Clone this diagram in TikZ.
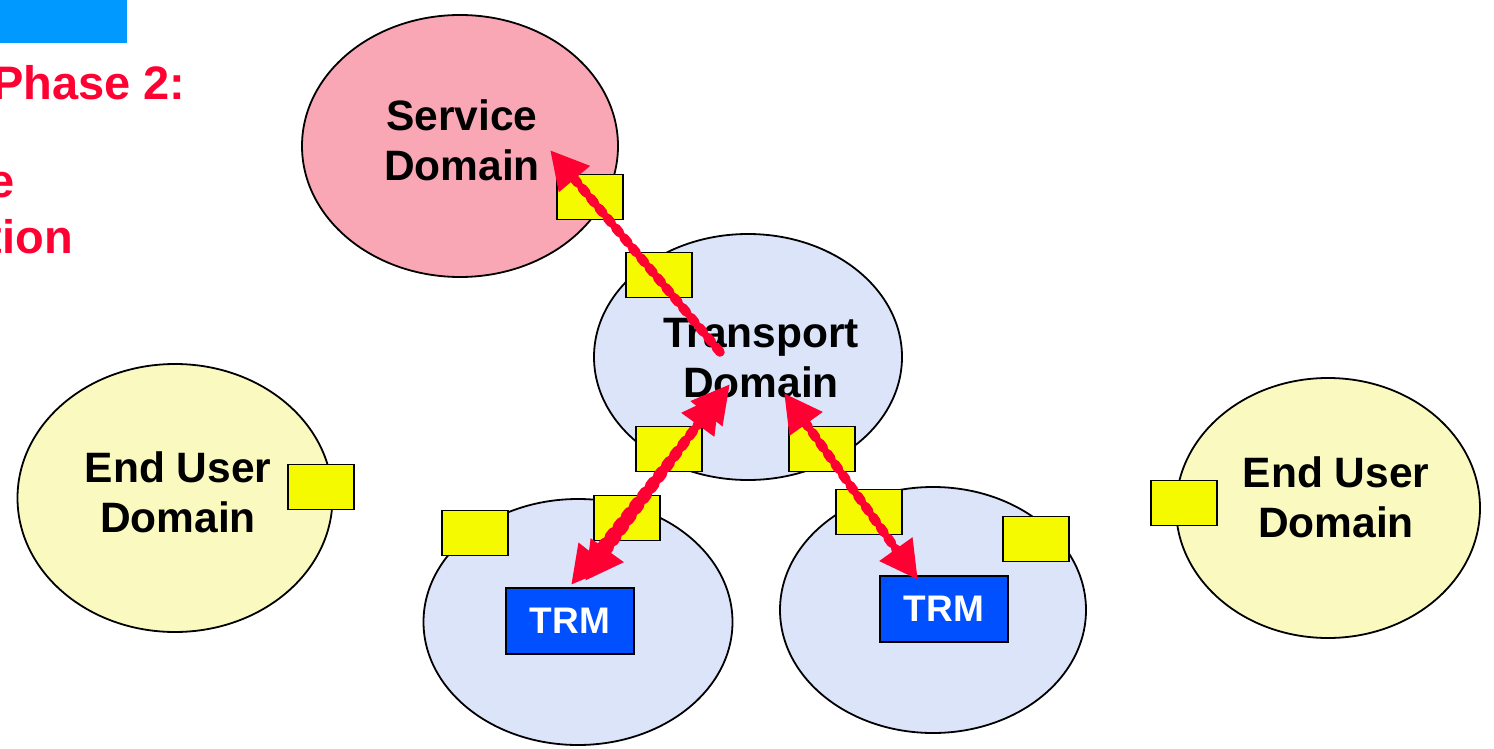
\documentclass[tikz,border=0pt]{standalone}
\usepackage{fontspec}
\setmainfont{Liberation Sans}
\usetikzlibrary{shapes.geometric,arrows.meta}
\definecolor{svcpink}{HTML}{F9A7B5}
\definecolor{trblue}{HTML}{DCE4FA}
\definecolor{euyellow}{HTML}{FAFAC0}
\definecolor{portyellow}{HTML}{F5FA00}
\definecolor{trmblue}{HTML}{0050FF}
\definecolor{flowred}{HTML}{FF0033}
\definecolor{barblue}{HTML}{0099FF}
\tikzset{
  domainshape/.style={ellipse, draw=black, line width=1.8pt, inner sep=0pt},
  dlabel/.style={font=\bfseries\fontsize{42.5}{50}\selectfont, align=center, text=black},
  portbox/.style={draw=black, fill=portyellow, line width=1.8pt, minimum width=66pt, minimum height=45pt, inner sep=0pt},
  trmbox/.style={draw=black, fill=trmblue, line width=1.8pt, minimum width=128pt, minimum height=66pt, inner sep=0pt,
              text=white, font=\bfseries\fontsize{37}{40}\selectfont},
  flowline/.style={draw=flowred, line width=9.5pt, line cap=round, dash pattern=on 6pt off 7pt},
  redtip/.tip={Triangle[length=38pt,width=38pt,fill=flowred]},
  tipA/.style={-redtip},
  tipAB/.style={redtip-redtip},
  phasetext/.style={text=flowred, font=\bfseries\fontsize{47}{52}\selectfont, inner sep=0pt},
}
\begin{document}
\begin{tikzpicture}[x=1pt,y=-1pt]
\useasboundingbox (0,0) rectangle (1494,749);
\clip (0,0) rectangle (1494,749);

% title bar and phase heading
\fill[barblue] (0,0) rectangle (127,43);
\node[phasetext, anchor=base west] (ph1) at (-8,100) {Phase 2:};
\node[phasetext, anchor=base east] (ph2) at (15,197) {e};
\node[phasetext, anchor=base east] (ph3) at (73,253) {tion};

% domains
\node[domainshape, fill=svcpink, minimum width=316pt, minimum height=262pt] (svc) at (460,146) {};
\node[domainshape, fill=trblue, minimum width=308pt, minimum height=246pt] (tr) at (748,357) {};
\node[domainshape, fill=euyellow, minimum width=315pt, minimum height=268pt] (eul) at (175,498) {};
\node[domainshape, fill=euyellow, minimum width=304pt, minimum height=260pt] (eur) at (1328,508) {};
\node[domainshape, fill=trblue, minimum width=309pt, minimum height=246pt] (bl) at (578,622) {};
\node[domainshape, fill=trblue, minimum width=306pt, minimum height=246pt] (br) at (933,610) {};

% domain labels
\node[dlabel] (svct) at (462,140) {Service\\Domain};
\node[dlabel] (trt) at (761,358) {Transport\\Domain};
\node[dlabel] (eult) at (178,492) {End User\\Domain};
\node[dlabel] (eurt) at (1336,497) {End User\\Domain};

% interface ports
\node[portbox] (p1) at (590,197) {};
\node[portbox] (p2) at (659,275) {};
\node[portbox] (p3) at (669,449) {};
\node[portbox] (p4) at (822,449) {};
\node[portbox] (p5) at (627,518) {};
\node[portbox] (p6) at (475,533) {};
\node[portbox] (p7) at (869,512) {};
\node[portbox] (p8) at (1036,539) {};
\node[portbox] (p9) at (321,487) {};
\node[portbox] (p10) at (1184,503) {};

% resource managers
\node[trmbox] (trml) at (570,621) {TRM};
\node[trmbox] (trmr) at (944,609) {TRM};

% flow end points
\coordinate (sA) at (720,352);
\coordinate (sB) at (550,150);
\coordinate (lA1) at (730,384);
\coordinate (lB1) at (571,585);
\coordinate (lA2) at (720,394);
\coordinate (lB2) at (585,581);
\coordinate (rA) at (784,393);
\coordinate (rB) at (918,580);

% flows
\draw[flowline, tipA] (sA) -- (sB);
\draw[flowline, tipAB] (lB1) -- (lA1);
\draw[flowline, tipAB] (lB2) -- (lA2);
\draw[flowline, tipAB] (rA) -- (rB);
\end{tikzpicture}
\end{document}
